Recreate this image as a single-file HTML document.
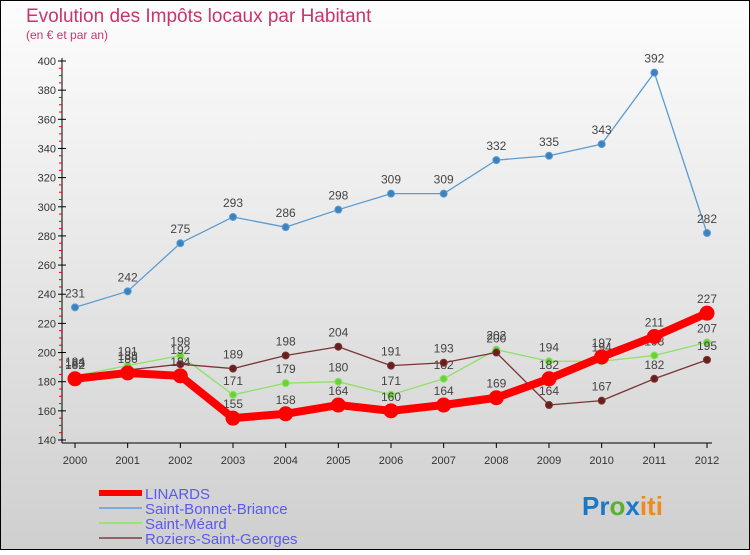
<!DOCTYPE html>
<html><head><meta charset="utf-8"><style>
html,body{margin:0;padding:0}
body{width:750px;height:550px;overflow:hidden;font-family:"Liberation Sans",sans-serif}
</style></head><body>
<svg id="chart" width="750" height="550" xmlns="http://www.w3.org/2000/svg" font-family="Liberation Sans, sans-serif">
<defs><linearGradient id="bg" x1="0" y1="0" x2="0" y2="1"><stop offset="0" stop-color="#fdfdfd"/><stop offset="1" stop-color="#cfcfcf"/></linearGradient></defs>
<rect x="0.5" y="0.5" width="749" height="549" fill="url(#bg)" stroke="#000"/>
<text x="26" y="22" font-size="19" fill="#c8356a">Evolution des Impôts locaux par Habitant</text>
<text x="26" y="39" font-size="12" fill="#c8356a">(en € et par an)</text>
<g id="axes"></g><g id="series"></g><g id="legend"></g>
<text x="582" y="515" font-size="26" font-weight="bold" fill="#1b78c8">P<tspan fill="#1b78c8">r</tspan><tspan fill="#5bb02c">o</tspan><tspan fill="#1b78c8">x</tspan><tspan fill="#f08a1c">iti</tspan></text>
</svg>
<script>
const years=[2000,2001,2002,2003,2004,2005,2006,2007,2008,2009,2010,2011,2012];
const yTicks=[140,160,180,200,220,240,260,280,300,320,340,360,380,400];
const linards=[182,186,184,155,158,164,160,164,169,182,197,211,227];
const stBonnet=[231,242,275,293,286,298,309,309,332,335,343,392,282];
const stMeard=[184,191,198,171,179,180,171,182,202,194,194,198,207];
const roziers=[183,188,192,189,198,204,191,193,200,164,167,182,195];
const NS="http://www.w3.org/2000/svg";
const X=i=>75+i*(707-75)/(years.length-1);
const Y=v=>440-(v-140)*(440-61)/260;
function mk(tag,attrs,parent){const e=document.createElementNS(NS,tag);for(const k in attrs)e.setAttribute(k,attrs[k]);parent.appendChild(e);return e;}
const axes=document.getElementById('axes');
let ax=mk('line',{x1:62,y1:58,x2:62,y2:443,stroke:'#000'},axes);


let bx=mk('line',{x1:62,y1:443,x2:712,y2:443,stroke:'#000'},axes);


yTicks.forEach((t,i)=>{
  mk('line',{x1:58,y1:Y(t),x2:66,y2:Y(t),stroke:'#000'},axes);
  const tx=mk('text',{x:56,y:Y(t)+4,'text-anchor':'end','font-size':11,fill:'#333'},axes);
  tx.textContent=t;
  
  
  if(i<yTicks.length-1)[0.25,0.5,0.75].forEach(f=>mk('line',{x1:59,y1:Y(t+20*f),x2:62,y2:Y(t+20*f),stroke:'#e00'},axes));
});
years.forEach((yr,i)=>{
  mk('line',{x1:X(i),y1:443,x2:X(i),y2:448,stroke:'#000'},axes);
  const tx=mk('text',{x:X(i),y:464,'text-anchor':'middle','font-size':11,fill:'#333'},axes);
  tx.textContent=yr;
  
  
});
const S=document.getElementById('series');
function draw(data,name,color,w,r,dot){
  const g=mk('g',{},S);
  
  
  const p=mk('polyline',{points:data.map((v,i)=>X(i)+','+Y(v)).join(' '),fill:'none',stroke:color,'stroke-width':w,'stroke-linejoin':'round'},g);
  
  
  data.forEach((v,i)=>{
    const c=mk('circle',{cx:X(i),cy:Y(v),r:r,fill:dot,stroke:color,'stroke-width':1},g);
    
    
    const t=mk('text',{x:X(i),y:Y(v)-10,'text-anchor':'middle','font-size':12,fill:'#444'},g);
    t.textContent=v;
    
    
  });
}
draw(stBonnet,'saint-bonnet-briance','#5b9bd0',1.3,3.5,'#3d82c0');
draw(stMeard,'saint-meard','#8ee06a',1.3,3.5,'#6cd03a');
draw(roziers,'roziers-saint-georges','#7a3535',1.3,3.5,'#6a1f1f');
draw(linards,'linards','#f00',8,7,'#f00');
const L=document.getElementById('legend');
const items=[['LINARDS','#f00',6],['Saint-Bonnet-Briance','#7aaed8',2],['Saint-Méard','#9ee07a',2],['Roziers-Saint-Georges','#946060',2]];
items.forEach((it,i)=>{
  const y=493+i*15;
  const g=mk('g',{},L);
  
  
  mk('line',{x1:99,y1:y,x2:142,y2:y,stroke:it[1],'stroke-width':it[2]},g);
  const t=mk('text',{x:145,y:y+6,'font-size':15,fill:'#5a5aee'},g);
  t.textContent=it[0];
  
  
});
</script>
</body></html>
